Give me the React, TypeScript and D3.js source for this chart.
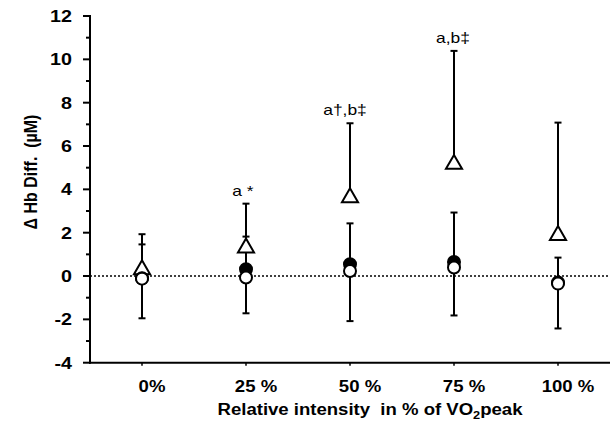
import React from 'react';
import * as d3 from 'd3';

// categories on the x axis
const intensities = ['0%', '25 %', '50 %', '75 %', '100 %'];

// triangle series (mean, upper error bar end)
const triMean = [0.3, 1.3, 3.62, 5.16, 1.88];
const triUpper = [1.93, 3.34, 7.05, 10.39, 7.08];

// filled circle series (mean, upper error bar end)
const filledMean = [-0.1, 0.31, 0.54, 0.65, -0.3];
const filledUpper = [1.46, 1.82, 2.43, 2.93, 0.85];

// open circle series (mean, lower error bar end)
const openMean = [-0.12, -0.07, 0.23, 0.39, -0.35];
const openLower = [-1.95, -1.72, -2.08, -1.82, -2.42];

// significance labels above the triangle bars
const annotations = ['', 'a *', 'a\u2020,b\u2021', 'a,b\u2021', ''];
const annotationShift = [0, -3, -5, -1, 0];

const yMajorTicks = [-4, -2, 0, 2, 4, 6, 8, 10, 12];
const yMinorTicks = [-3, -1, 1, 3, 5, 7, 9, 11];

const W = 613;
const H = 424;
const font = '"Liberation Sans", Arial, sans-serif';
// the source picture is a little wider than tall, so glyphs are stretched
const SX = 1.16;

type TProps = {
  x: number;
  y: number;
  anchor?: 'start' | 'middle' | 'end';
  size: number;
  bold?: boolean;
  children: React.ReactNode;
};

const SText: React.FC<TProps> = ({ x, y, anchor = 'middle', size, bold, children }) => (
  <g transform={`translate(${x},${y}) scale(${SX},1)`}>
    <text
      textAnchor={anchor}
      fontFamily={font}
      fontWeight={bold ? 'bold' : 'normal'}
      fontSize={size}
      fill="#000"
      xmlSpace="preserve"
    >
      {children}
    </text>
  </g>
);

const App: React.FC = () => {
  const x = d3.scalePoint<string>().domain(intensities).range([90, 610]).padding(0.5);
  const y = d3.scaleLinear().domain([-4, 12]).range([362.7, 16]);

  const triPath = d3.symbol().type(d3.symbolTriangle).size(112)() || '';
  const capW = 3.5;

  const errorBar = (cx: number, from: number, to: number, key: string) => (
    <g key={key} stroke="#000" strokeWidth={2}>
      <line x1={cx} x2={cx} y1={y(from)} y2={y(to)} />
      <line x1={cx - capW} x2={cx + capW} y1={y(to)} y2={y(to)} />
    </g>
  );

  return (
    <svg width={W} height={H} style={{ position: 'absolute', left: 0, top: 0, background: '#fff' }}>
      {/* zero line */}
      <line x1={90} x2={610} y1={y(0)} y2={y(0)} stroke="#000" strokeWidth={1.5} strokeDasharray="2,2" />

      {/* error bars */}
      {intensities.map((c, i) => {
        const cx = x(c) || 0;
        return (
          <g key={c}>
            {errorBar(cx, triMean[i], triUpper[i], 't' + i)}
            {errorBar(cx, filledMean[i], filledUpper[i], 'f' + i)}
            {errorBar(cx, openMean[i], openLower[i], 'o' + i)}
          </g>
        );
      })}

      {/* markers */}
      {intensities.map((c, i) => {
        const cx = x(c) || 0;
        return (
          <g key={'m' + c}>
            <path d={triPath} transform={`translate(${cx},${y(triMean[i])})`} fill="#fff" stroke="#000" strokeWidth={2} />
            <circle cx={cx} cy={y(filledMean[i])} r={6} fill="#000" stroke="#000" strokeWidth={2} />
            <circle cx={cx} cy={y(openMean[i])} r={6} fill="#fff" stroke="#000" strokeWidth={2} />
          </g>
        );
      })}

      {/* annotations */}
      {intensities.map((c, i) =>
        annotations[i] ? (
          <SText key={'a' + c} x={(x(c) || 0) + annotationShift[i]} y={y(triUpper[i]) - 8} size={15}>
            {annotations[i]}
          </SText>
        ) : null
      )}

      {/* y axis */}
      <line x1={90} x2={90} y1={y(12) - 1} y2={y(-4) + 1} stroke="#000" strokeWidth={2} />
      {yMajorTicks.map(t => (
        <g key={'y' + t}>
          <line x1={83} x2={90} y1={y(t)} y2={y(t)} stroke="#000" strokeWidth={2} />
          <SText x={72} y={y(t) + 6} anchor="end" size={17} bold>
            {t}
          </SText>
        </g>
      ))}
      {yMinorTicks.map(t => (
        <line key={'ym' + t} x1={86} x2={90} y1={y(t)} y2={y(t)} stroke="#000" strokeWidth={2} />
      ))}

      {/* x axis */}
      <line x1={89} x2={610} y1={y(-4)} y2={y(-4)} stroke="#000" strokeWidth={2} />
      {intensities.map(c => (
        <g key={'x' + c}>
          <line x1={x(c)} x2={x(c)} y1={y(-4)} y2={y(-4) + 3} stroke="#000" strokeWidth={1.5} />
          <SText x={(x(c) || 0) + 10} y={392} size={16} bold>
            {c}
          </SText>
        </g>
      ))}

      {/* axis titles */}
      <SText x={370} y={415} size={16} bold>
        Relative intensity  in % of VO<tspan fontSize={11} dy={4}>2</tspan>
        <tspan dy={-4}>peak</tspan>
      </SText>
      <g transform={`translate(37,172) scale(${SX},1) rotate(-90)`}>
        <text textAnchor="middle" fontFamily={font} fontWeight="bold" fontSize={16} fill="#000" xmlSpace="preserve">
          {'\u0394 Hb Diff.  (\u00b5M)'}
        </text>
      </g>
    </svg>
  );
};

export default App;
